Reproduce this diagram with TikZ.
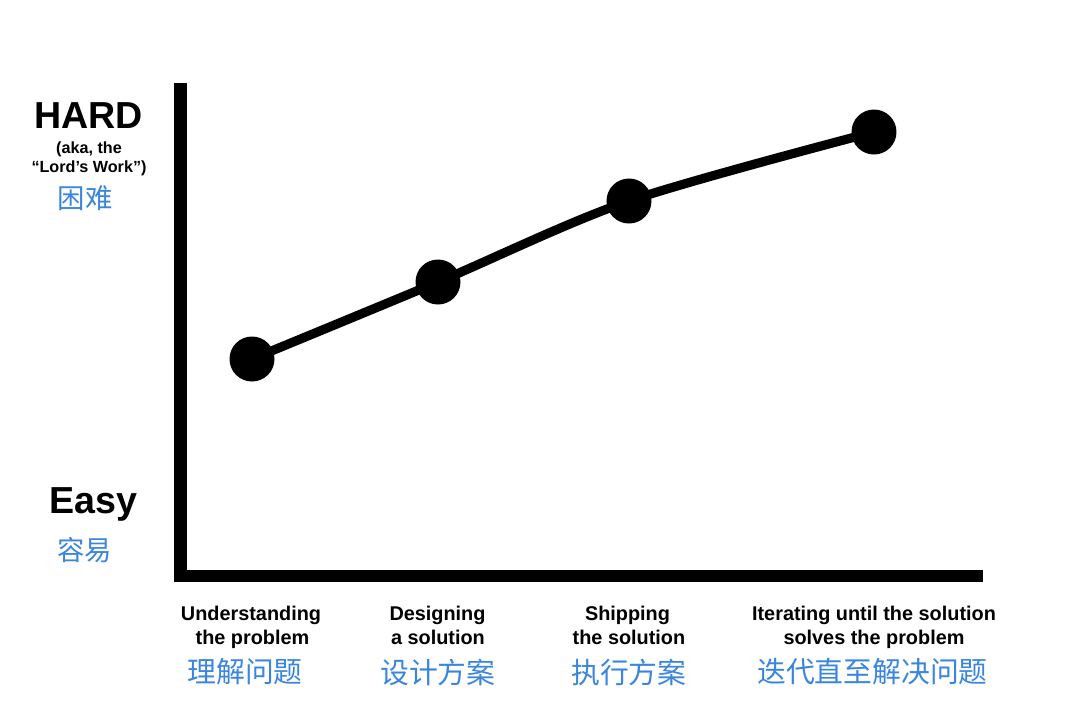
\documentclass[tikz,border=0pt]{standalone}
\usepackage{fontspec}
\setmainfont{Liberation Sans}
\newfontfamily\cjk{Noto Sans CJK SC}
\usepackage{tikz}
\definecolor{zhblue}{RGB}{58,134,222}

\begin{document}
\begin{tikzpicture}
      \useasboundingbox (0,0) rectangle (10.87,7);
      \tikzstyle {stagedot} = [shape=circle, fill=black, minimum size=0.45cm, inner sep=0pt];
      \tikzstyle {bigword} = [anchor=base, inner sep=0pt, font=\bfseries\fontsize{10.7}{12}\selectfont];
      \tikzstyle {akaword} = [anchor=base, inner sep=0pt, font=\bfseries\fontsize{4.6}{5.5}\selectfont];
      \tikzstyle {stagetext} = [anchor=base, inner sep=0pt, font=\bfseries\fontsize{5.65}{6.8}\selectfont];
      \tikzstyle {zhtext} = [inner sep=0pt, text=zhblue, font=\cjk\fontsize{8.2}{9}\selectfont];
      % axes
      \coordinate (ytop) at (1.805,6.17);
      \coordinate (origin) at (1.805,1.24);
      \coordinate (xend) at (9.83,1.24);
      \draw [line width=0.125cm, miter limit=4] (ytop) -- (origin) -- (xend);
      % vertical axis labels
      \node (hard) [bigword] at (0.885,5.72) {HARD};
      \node (aka1) [akaword] at (0.89,5.47) {(aka, the};
      \node (aka2) [akaword] at (0.89,5.28) {“Lord’s Work”)};
      \node (hardzh) [zhtext, font=\cjk\fontsize{7.8}{9}\selectfont] at (0.85,5.02) {困难};
      \node (easy) [bigword] at (0.935,1.87) {Easy};
      \node (easyzh) [zhtext, font=\cjk\fontsize{7.8}{9}\selectfont] at (0.845,1.50) {容易};
      % stages
      \node (u) [stagedot] at (2.52,3.41) {};
      \node (d) [stagedot] at (4.38,4.18) {};
      \node (s) [stagedot] at (6.29,4.99) {};
      \node (i) [stagedot] at (8.74,5.68) {};
      \draw [line width=2.6pt] plot [smooth, tension=0.5] coordinates {(u.center) (d.center) (s.center) (i.center)};
      \node (u1) [stagetext] at (2.51,0.80) {Understanding};
      \node (u2) [stagetext] at (2.525,0.56) {the problem};
      \node (uzh) [zhtext] at (2.45,0.28) {理解问题};
      \node (d1) [stagetext] at (4.375,0.80) {Designing};
      \node (d2) [stagetext] at (4.38,0.56) {a solution};
      \node (dzh) [zhtext] at (4.38,0.28) {设计方案};
      \node (s1) [stagetext] at (6.275,0.80) {Shipping};
      \node (s2) [stagetext] at (6.29,0.56) {the solution};
      \node (szh) [zhtext] at (6.29,0.28) {执行方案};
      \node (i1) [stagetext] at (8.74,0.80) {Iterating until the solution};
      \node (i2) [stagetext] at (8.74,0.56) {solves the problem};
      \node (izh) [zhtext] at (8.725,0.28) {迭代直至解决问题};
    \end{tikzpicture}
\end{document}
